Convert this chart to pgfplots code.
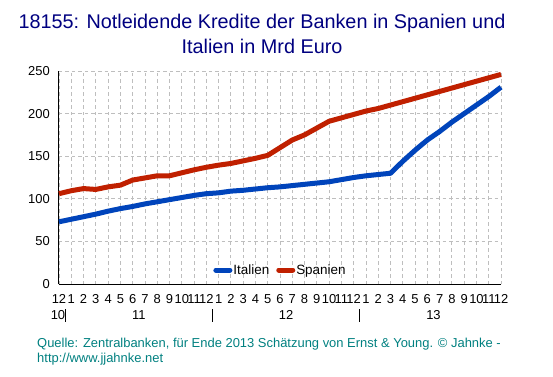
\documentclass[border=0pt]{standalone}
\usepackage{pgfplots}
\pgfplotsset{compat=1.18}
\usepackage{fontspec}
\setmainfont{Liberation Sans}
\definecolor{itblue}{RGB}{0,68,187}
\definecolor{esred}{RGB}{192,32,0}
\definecolor{titleblue}{RGB}{0,0,128}
\definecolor{footteal}{RGB}{0,128,128}
\definecolor{gridgray}{RGB}{190,190,190}
\begin{document}
\begin{tikzpicture}[x=1bp,y=1bp]
\begin{axis}[
  scale only axis, width=442bp, height=213bp,
  at={(0,0)}, anchor=south west,
  clip=false,
  xmin=0, xmax=36, ymin=0, ymax=250,
  axis x line=bottom, axis y line=left,
  axis line style={-, black, line width=1bp},
  xtick={0,...,36},
  xticklabels={12,1,2,3,4,5,6,7,8,9,10,11,12,1,2,3,4,5,6,7,8,9,10,11,12,1,2,3,4,5,6,7,8,9,10,11,12},
  ytick={0,50,...,250},
  grid=major,
  major grid style={gridgray, dash pattern=on 3.5bp off 3bp, line width=0.8bp},
  tick align=inside, major tick length=3bp, tick style={gridgray, line width=0.8bp},
  /pgf/number format/assume math mode=true,
  xticklabel style={font=\fontsize{13}{13}\selectfont, anchor=center, inner sep=0pt, yshift=-15bp},
  yticklabel style={font=\fontsize{13}{13}\selectfont, anchor=east, inner sep=0pt, xshift=-9bp},
  legend style={at={(0.5,0.0657)}, anchor=center, draw=none, fill=none,
    font=\fontsize{13.5}{13.5}\selectfont, legend columns=2,
    /tikz/every even column/.append style={column sep=6bp},
    nodes={inner sep=1bp}},
  legend image code/.code={\draw[#1, line width=5bp, line cap=round] (0bp,0bp) -- (14bp,0bp);},
]
\addplot[itblue, line width=5bp, line join=round] coordinates {
(0,73) (1,76) (2,79) (3,82) (4,85.5) (5,88.5) (6,91) (7,94) (8,96.5) (9,99) (10,101.5) (11,104)
(12,106) (13,107) (14,109) (15,110) (16,111.5) (17,113) (18,114) (19,115.5) (20,117) (21,118.5)
(22,120) (23,122.5) (24,125) (25,127) (26,128.5) (27,130) (28,144) (29,157) (30,169) (31,179)
(32,190) (33,200) (34,210) (35,220) (36,231)};
\addlegendentry{Italien}
\addplot[esred, line width=5bp, line join=round] coordinates {
(0,106) (1,109.5) (2,112) (3,111) (4,114) (5,116) (6,122) (7,124.5) (8,127) (9,127) (10,130.5)
(11,134) (12,137) (13,139.5) (14,141.5) (15,144.5) (16,147.5) (17,151) (18,160) (19,169) (20,175)
(21,183) (22,191) (23,195) (24,199) (25,203) (26,206) (27,210) (28,214) (29,218) (30,222)
(31,226) (32,230) (33,234) (34,238) (35,242) (36,246)};
\addlegendentry{Spanien}
\node[font=\fontsize{13}{13}\selectfont, inner sep=0pt, yshift=-31bp, xshift=-1bp] at (axis cs:0,0) {10};
\node[font=\fontsize{13}{13}\selectfont, inner sep=0pt, yshift=-31bp] at (axis cs:6.5,0) {11};
\node[font=\fontsize{13}{13}\selectfont, inner sep=0pt, yshift=-31bp] at (axis cs:18.5,0) {12};
\node[font=\fontsize{13}{13}\selectfont, inner sep=0pt, yshift=-31bp] at (axis cs:30.5,0) {13};
\draw[black, line width=1bp] ([yshift=-25bp]axis cs:0.5,0) -- ([yshift=-38bp]axis cs:0.5,0);
\draw[black, line width=1bp] ([yshift=-25bp]axis cs:12.5,0) -- ([yshift=-38bp]axis cs:12.5,0);
\draw[black, line width=1bp] ([yshift=-25bp]axis cs:24.5,0) -- ([yshift=-38bp]axis cs:24.5,0);
\end{axis}
\node[anchor=base, inner sep=0pt, font=\fontsize{19.9}{19.9}\selectfont, text=titleblue] at (203,256) {18155: Notleidende Kredite der Banken in Spanien und};
\node[anchor=base, inner sep=0pt, font=\fontsize{19.9}{19.9}\selectfont, text=titleblue] at (203,231) {Italien in Mrd Euro};
\node[anchor=base west, inner sep=0pt, font=\fontsize{13}{13}\selectfont, text=footteal] at (-22,-63) {Quelle: Zentralbanken, für Ende 2013 Schätzung von Ernst \& Young. © Jahnke -};
\node[anchor=base west, inner sep=0pt, font=\fontsize{13}{13}\selectfont, text=footteal] at (-22,-78) {http://www.jjahnke.net};
\pgfresetboundingbox
\path[use as bounding box] (-59,-92) rectangle (494,284);
\end{tikzpicture}
\end{document}
